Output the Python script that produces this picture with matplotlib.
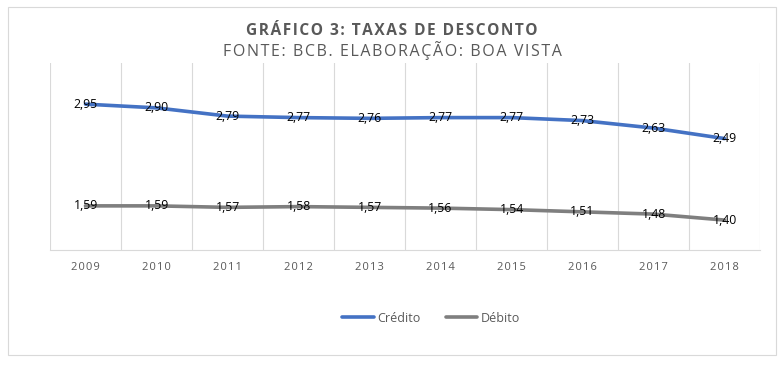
import numpy as np
import matplotlib
matplotlib.use('Agg')
from matplotlib import pyplot as plt
from matplotlib.patches import Rectangle

years = ['2009', '2010', '2011', '2012', '2013', '2014', '2015', '2016', '2017', '2018']
credito = [2.95, 2.90, 2.79, 2.77, 2.76, 2.77, 2.77, 2.73, 2.63, 2.49]
debito = [1.59, 1.59, 1.57, 1.58, 1.57, 1.56, 1.54, 1.51, 1.48, 1.40]

plt.rcParams['font.family'] = ['Open Sans', 'DejaVu Sans']


def spaced(s, sep='\u200a'):
    return sep.join(s)


fig = plt.figure(figsize=(7.84, 3.69), dpi=100)
fig.patches.append(Rectangle((8 / 784, 14 / 369), 768 / 784, 348 / 369,
                             transform=fig.transFigure, fill=False,
                             edgecolor='#D9D9D9', linewidth=0.8))

ax = fig.add_axes([50 / 784, 119 / 369, 710 / 784, 187 / 369])
xs = np.arange(len(years))
ax.plot(xs, credito, color='#4472C4', linewidth=2.6, label='Crédito', solid_capstyle='round')
ax.plot(xs, debito, color='#7F7F7F', linewidth=2.6, label='Débito', solid_capstyle='round')

for x, c, d in zip(xs, credito, debito):
    ax.text(x, c, f'{c:.2f}'.replace('.', ','), ha='center', va='center', fontsize=8.8, color='black')
    ax.text(x, d, f'{d:.2f}'.replace('.', ','), ha='center', va='center', fontsize=8.8, color='black')

ax.set_xlim(-0.5, len(years) - 0.5)
ax.set_ylim(1.0, 3.5)
ax.set_xticks(xs)
ax.set_xticklabels([spaced(y) for y in years], fontsize=8, color='#595959')
ax.set_xticks(np.arange(-0.5, len(years)), minor=True)
ax.tick_params(axis='x', which='both', length=0, pad=9)
ax.grid(True, which='minor', axis='x', color='#D9D9D9', linewidth=0.8)
ax.set_yticks([])
for s in ['top', 'left', 'right']:
    ax.spines[s].set_visible(False)
ax.spines['bottom'].set_color('#D9D9D9')

fig.text(0.5, 338 / 369, spaced('GRÁFICO 3: TAXAS DE DESCONTO'), ha='center', va='center',
         fontsize=11.2, fontweight='bold', color='#595959')
fig.text(0.5, 318 / 369, spaced('FONTE: BCB. ELABORAÇÃO: BOA VISTA'), ha='center', va='center',
         fontsize=11.5, color='#595959')

fig.legend(loc='center', bbox_to_anchor=(0.55, 51 / 369), ncol=2, frameon=False,
           fontsize=9, labelcolor='#595959', handlelength=2.5, columnspacing=2, handletextpad=0.3)

fig.savefig('out.png', dpi=100)
